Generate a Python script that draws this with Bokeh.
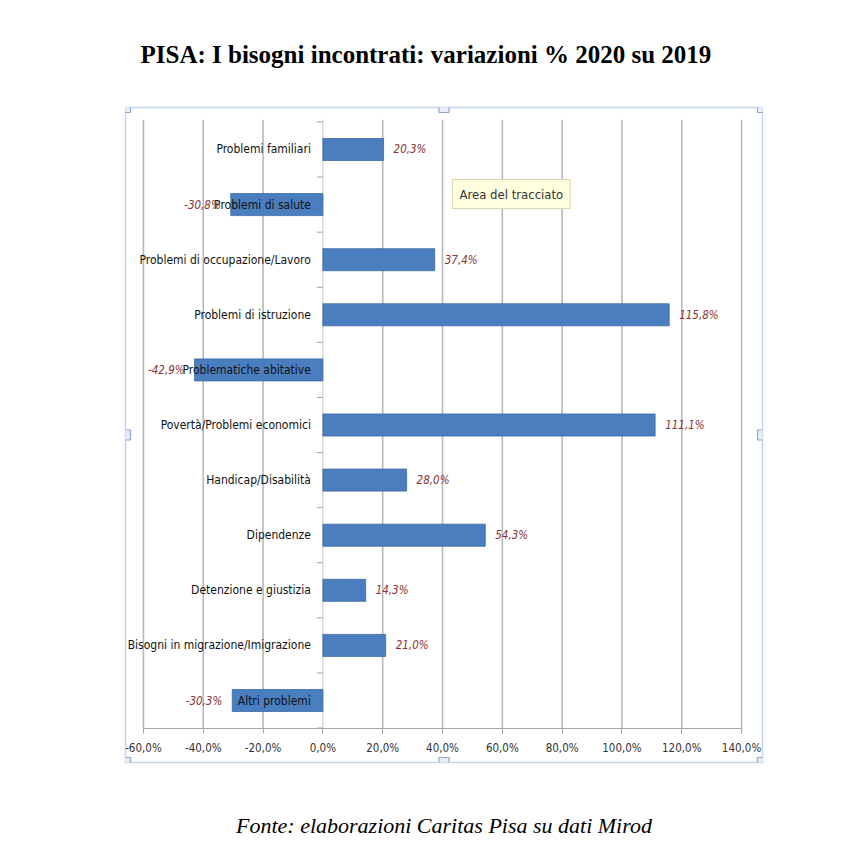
from bokeh.plotting import figure
from bokeh.models import (ColumnDataSource, Range1d, FixedTicker, Label, LinearAxis)
from bokeh.core.properties import value
from bokeh.embed import file_html
from bokeh.resources import INLINE

categories = [
    "Problemi familiari",
    "Problemi di salute",
    "Problemi di occupazione/Lavoro",
    "Problemi di istruzione",
    "Problematiche abitative",
    "Povertà/Problemi economici",
    "Handicap/Disabilità",
    "Dipendenze",
    "Detenzione e giustizia",
    "Bisogni in migrazione/Imigrazione",
    "Altri problemi",
]
values = [20.3, -30.8, 37.4, 115.8, -42.9, 111.1, 28.0, 54.3, 14.3, 21.0, -30.3]
tick_values = [-60, -40, -20, 0, 20, 40, 60, 80, 100, 120, 140]
tick_labels = ["-60,0%", "-40,0%", "-20,0%", "0,0%", "20,0%", "40,0%", "60,0%",
               "80,0%", "100,0%", "120,0%", "140,0%"]
title_text = "PISA: I bisogni incontrati: variazioni % 2020 su 2019"
source_text = "Fonte: elaborazioni Caritas Pisa su dati Mirod"
tooltip_text = "Area del tracciato"

SANS = "DejaVu Sans Condensed"
SERIF = "Liberation Serif"

n = len(categories)
ypos = [n - 1 - i for i in range(n)]          # first category on top


def fmt(v):
    return ("%.1f%%" % v).replace(".", ",")


src = ColumnDataSource(dict(y=ypos, cat=categories, val=values, zero=[0] * n))
pos_idx = [i for i, v in enumerate(values) if v >= 0]
neg_idx = [i for i, v in enumerate(values) if v < 0]
src_pos = ColumnDataSource(dict(y=[ypos[i] for i in pos_idx],
                                val=[values[i] for i in pos_idx],
                                lab=[fmt(values[i]) for i in pos_idx]))
src_neg = ColumnDataSource(dict(y=[ypos[i] for i in neg_idx],
                                val=[values[i] for i in neg_idx],
                                lab=[fmt(values[i]) for i in neg_idx]))

AXIS_Y = -0.51      # where the value axis sits (half a band below last bar)
GRID_TOP = n - 0.46

p = figure(width=850, height=856, output_backend="svg", toolbar_location=None,
           x_range=Range1d(-66.0, 147.0), y_range=Range1d(-1.125, n - 1 + 0.762),
           min_border_left=125, min_border_right=88,
           min_border_top=107, min_border_bottom=94)
p.outline_line_color = "#c5d5ee"
p.outline_line_width = 1.5
p.background_fill_color = "white"
p.border_fill_color = "white"
p.xgrid.grid_line_color = None
p.ygrid.grid_line_color = None
p.yaxis.visible = False

# vertical grid lines (every tick except zero)
grid_x = [t for t in tick_values if t != 0]
p.segment(x0=grid_x, x1=grid_x, y0=[AXIS_Y] * len(grid_x), y1=[GRID_TOP] * len(grid_x),
          line_color="#b8b8b8", line_width=1.6)

# x axis placed at the bottom of the plot area
ax = p.xaxis[0]
ax.fixed_location = AXIS_Y
ax.bounds = (tick_values[0], tick_values[-1])
ax.ticker = FixedTicker(ticks=tick_values)
ax.major_label_overrides = {t: l for t, l in zip(tick_values, tick_labels)}
ax.axis_line_color = "#a6a6a6"
ax.major_tick_line_color = "#a6a6a6"
ax.major_tick_out = 5
ax.major_tick_in = 0
ax.minor_tick_line_color = None
ax.major_label_text_font = SANS
ax.major_label_text_font_size = "11.5px"
ax.major_label_text_color = "#333333"
ax.major_label_standoff = 7

# category axis at zero with small ticks between categories
p.segment(x0=[0], x1=[0], y0=[AXIS_Y], y1=[GRID_TOP], line_color="#c8c8c8", line_width=1)
bounds = [k - 0.5 for k in range(n + 1)]
p.scatter(x=[-1] * len(bounds), y=bounds, marker="dash", size=6,
          line_color="#a0a0a0", line_width=1)

# bars
p.hbar(y="y", left="zero", right="val", height=0.4, source=src,
       fill_color="#4a7ebf", line_color="#3b6aa6", line_width=0.8)

# category labels
p.text(x="zero", y="y", text="cat", source=src, x_offset=-12,
       text_align="right", text_baseline="middle", text_font=value(SANS),
       text_font_size="12px", text_color="#111111")

# value labels
p.text(x="val", y="y", text="lab", source=src_pos, x_offset=10,
       text_align="left", text_baseline="middle", text_font=value(SANS),
       text_font_size="11.5px", text_font_style="italic", text_color="#8a3232")
p.text(x="val", y="y", text="lab", source=src_neg, x_offset=-10,
       text_align="right", text_baseline="middle", text_font=value(SANS),
       text_font_size="11.5px", text_font_style="italic", text_color="#8a3232")

# tooltip box
p.add_layout(Label(x=327, y=554, x_units="screen", y_units="screen", text=tooltip_text,
                   text_font=SANS, text_font_size="13px", text_color="#333333",
                   background_fill_color="#ffffe0", border_line_color="#d8d8b0",
                   padding=7, text_baseline="bottom"))

# selection handles of the chart object
hx = [-66.0, 40.5, 147.0]
hy = [-1.125, (n - 1 + 0.762 - 1.125) / 2, n - 1 + 0.762]
hxs = [hx[0], hx[2], hx[0], hx[2], hx[1], hx[1], hx[0], hx[2]]
hys = [hy[2], hy[2], hy[0], hy[0], hy[0], hy[2], hy[1], hy[1]]
p.scatter(x=hxs, y=hys, marker="square", size=10, fill_color="#e8eef8",
          line_color="#8fa6cc", line_width=1.2)

# title
p.title.text = title_text
p.title.align = "left"
p.title.offset = 15
p.title.vertical_align = "top"
p.title.standoff = 76
p.title.text_font = SERIF
p.title.text_font_style = "bold"
p.title.text_font_size = "25px"
p.title.text_color = "black"

# source line under the chart (label of a tick-less bottom axis)
src_axis = LinearAxis(ticker=FixedTicker(ticks=[]), axis_line_color=None,
                      major_tick_line_color=None, minor_tick_line_color=None,
                      major_label_standoff=0,
                      axis_label=source_text, axis_label_standoff=50,
                      axis_label_text_font=SERIF, axis_label_text_font_style="italic",
                      axis_label_text_font_size="22px", axis_label_text_color="black")
p.add_layout(src_axis, "below")

open("out.html", "w").write(file_html(p, INLINE))
